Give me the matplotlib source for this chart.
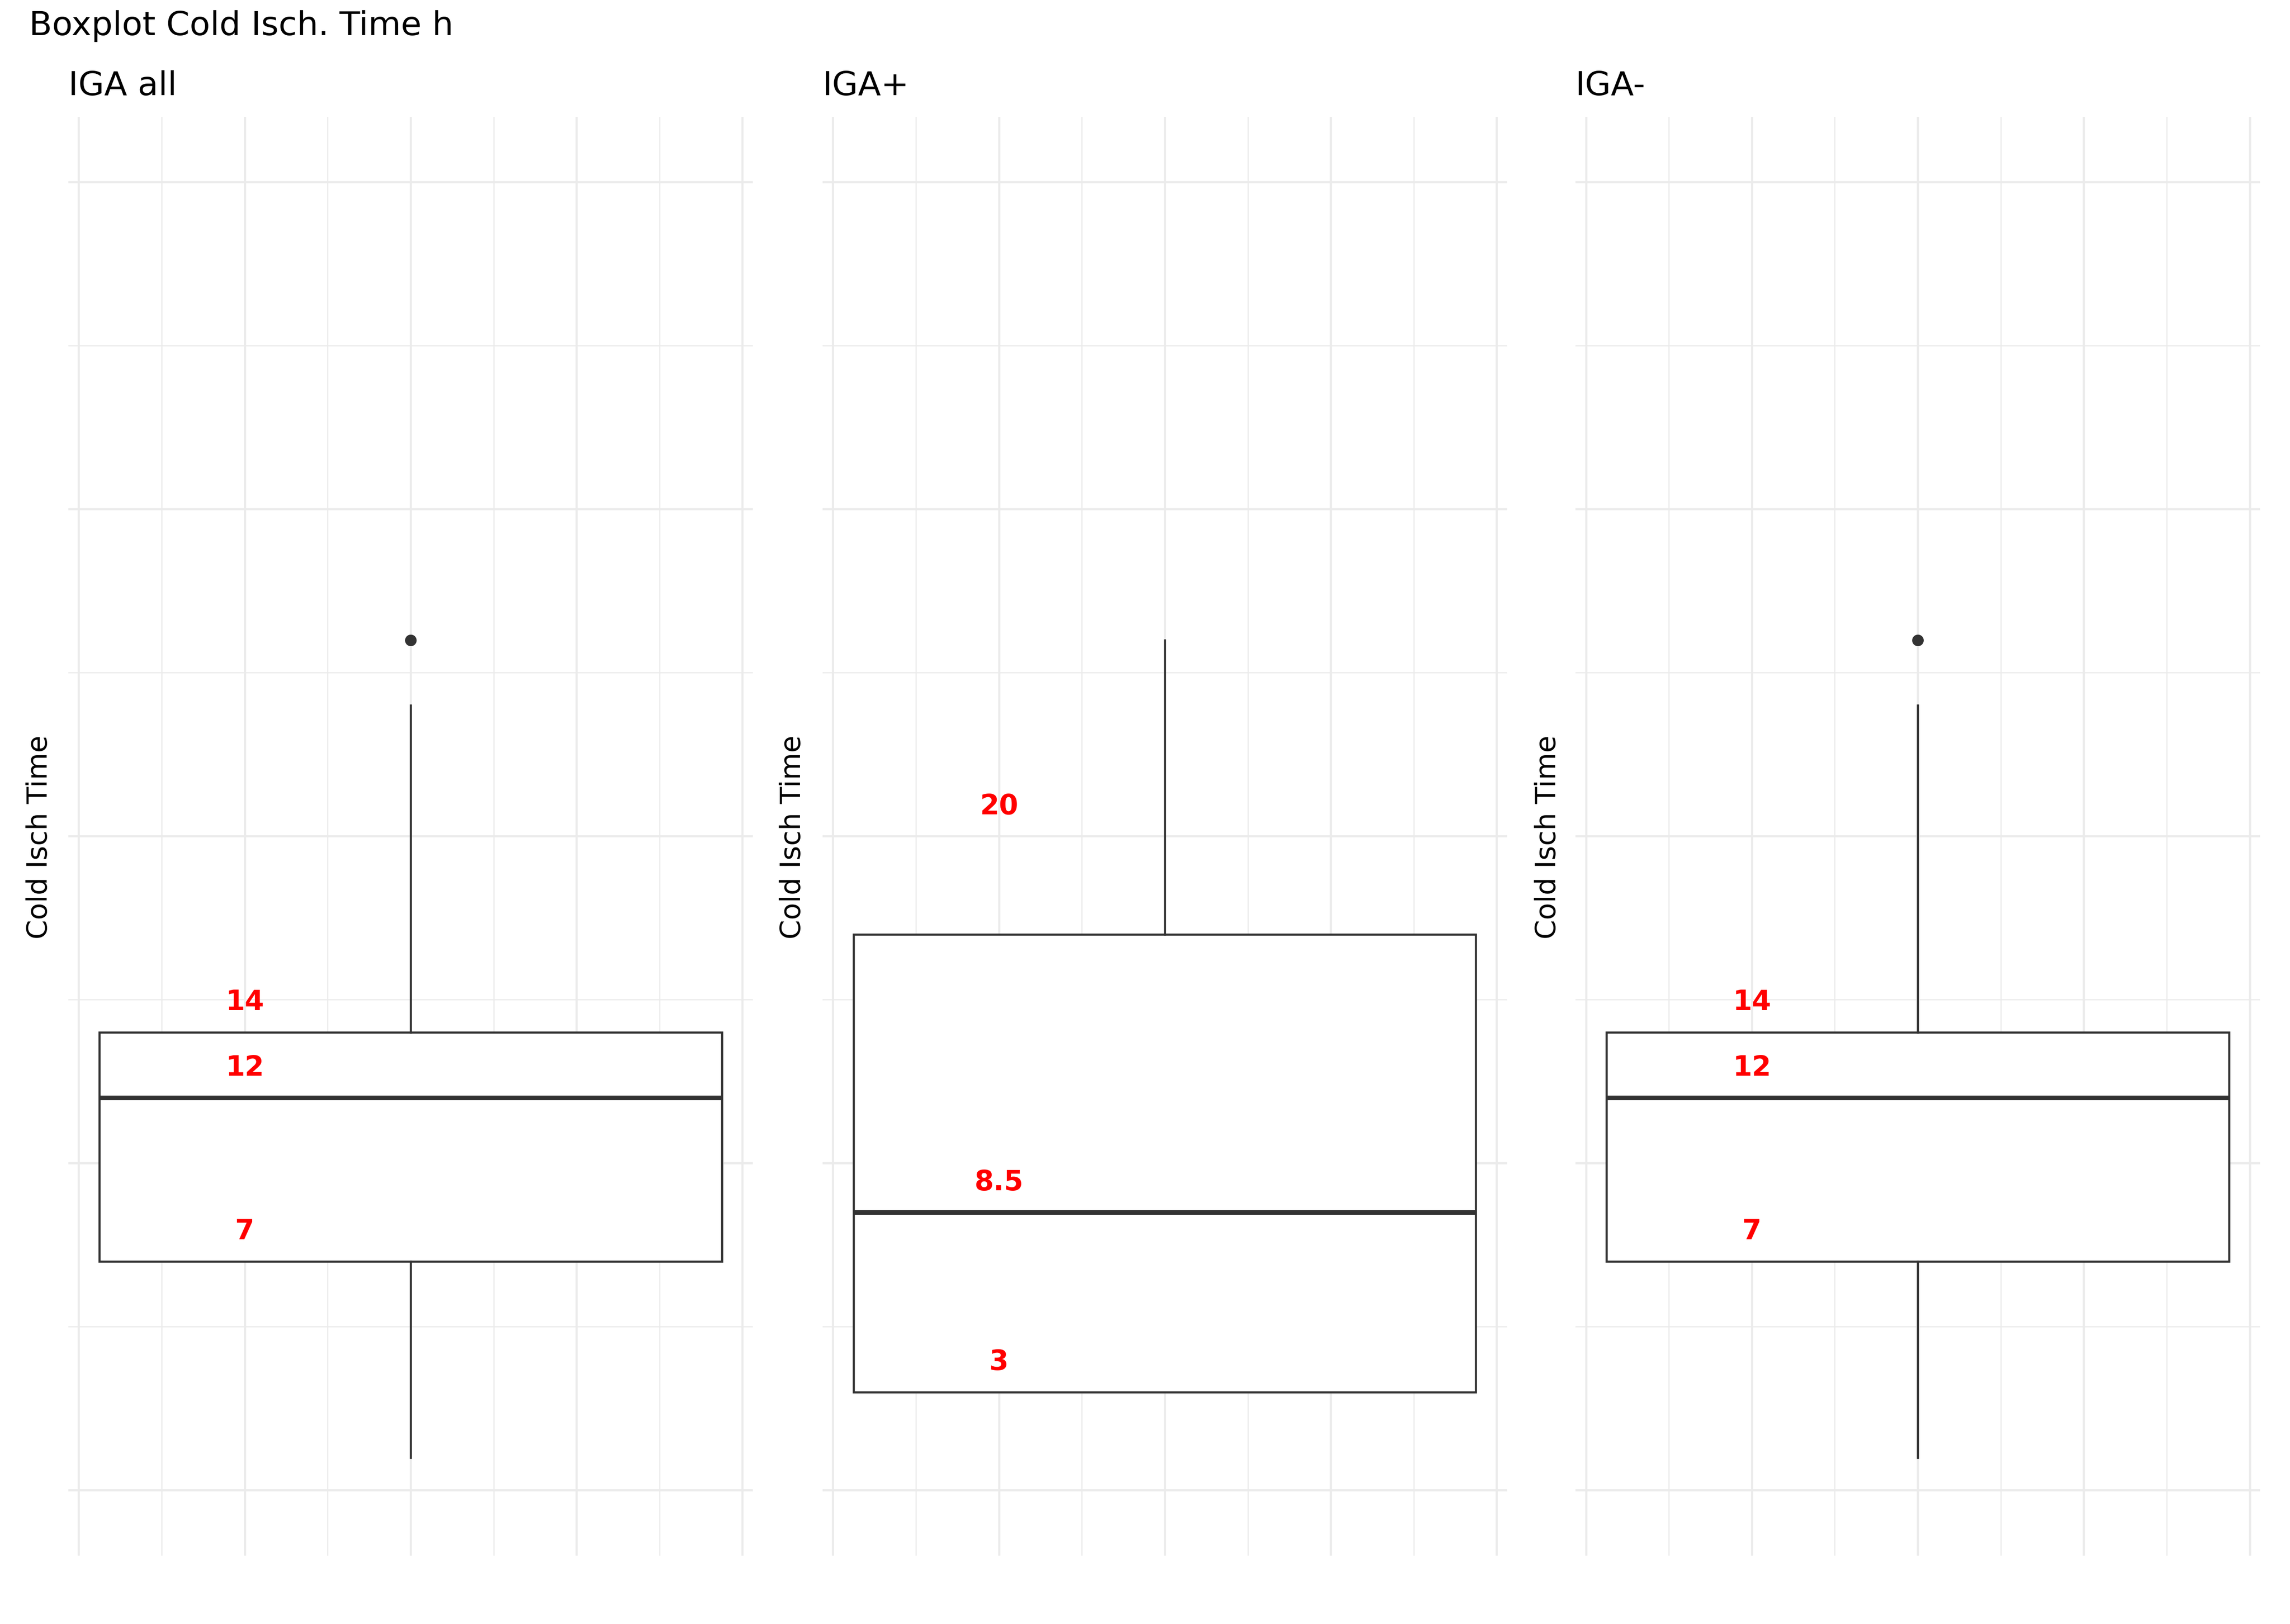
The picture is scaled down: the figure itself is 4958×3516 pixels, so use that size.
import matplotlib
matplotlib.use("Agg")
import matplotlib.pyplot as plt

# box statistics per group (Cold Isch. Time, hours)
groups = ["IGA all", "IGA+", "IGA-"]
whislo = [1, 3, 1]
q1 = [7, 3, 7]
med = [12, 8.5, 12]
q3 = [14, 17, 14]
whishi = [24, 26, 24]
fliers = [[26], [], [26]]
# red annotations (value printed, drawn just above it)
label_vals = [[14, 12, 7], [20, 8.5, 3], [14, 12, 7]]

line_col = "#333333"
grid_col = "#EBEBEB"

fig = plt.figure(figsize=(4958 / 300, 3516 / 300), dpi=300)
lefts = [0.02985, 0.3592, 0.688]
ylab_x = [0.0172, 0.3463, 0.676]

for i, name in enumerate(groups):
    ax = fig.add_axes([lefts[i], 0.0421, 0.2989, 0.886])
    stats = [dict(whislo=whislo[i], q1=q1[i], med=med[i], q3=q3[i],
                  whishi=whishi[i], fliers=fliers[i])]
    ax.bxp(stats, positions=[0], widths=0.75, showcaps=False, patch_artist=True,
           boxprops=dict(facecolor="white", edgecolor=line_col, linewidth=1.1),
           medianprops=dict(color=line_col, linewidth=2.4, solid_capstyle="butt"),
           whiskerprops=dict(color=line_col, linewidth=1.1),
           flierprops=dict(marker="o", markerfacecolor=line_col,
                           markeredgecolor=line_col, markersize=5))
    for v in label_vals[i]:
        ax.text(-0.2, v + 1, f"{v:g}", color="red", fontweight="bold",
                fontsize=14.4, ha="center", va="center_baseline")

    ax.set_xlim(-0.4125, 0.4125)
    ax.set_ylim(-2, 42)
    ax.set_xticks([-0.4, -0.2, 0, 0.2, 0.4])
    ax.set_xticks([-0.3, -0.1, 0.1, 0.3], minor=True)
    ax.set_yticks([0, 10, 20, 30, 40])
    ax.set_yticks([5, 15, 25, 35], minor=True)
    ax.tick_params(which="both", length=0, labelbottom=False, labelleft=False)
    ax.grid(which="major", color=grid_col, linewidth=1.1)
    ax.grid(which="minor", color=grid_col, linewidth=0.6)
    ax.set_axisbelow(True)
    for s in ax.spines.values():
        s.set_visible(False)

    fig.text(lefts[i], 0.947, name, fontsize=17.4, ha="left", va="center")
    fig.text(ylab_x[i], 0.4846, "Cold Isch Time", fontsize=14.5, rotation=90,
             ha="center", va="center")

fig.text(0.0128, 0.984, "Boxplot Cold Isch. Time h", fontsize=17.4,
         ha="left", va="center")

fig.savefig("out.png", dpi=300)
